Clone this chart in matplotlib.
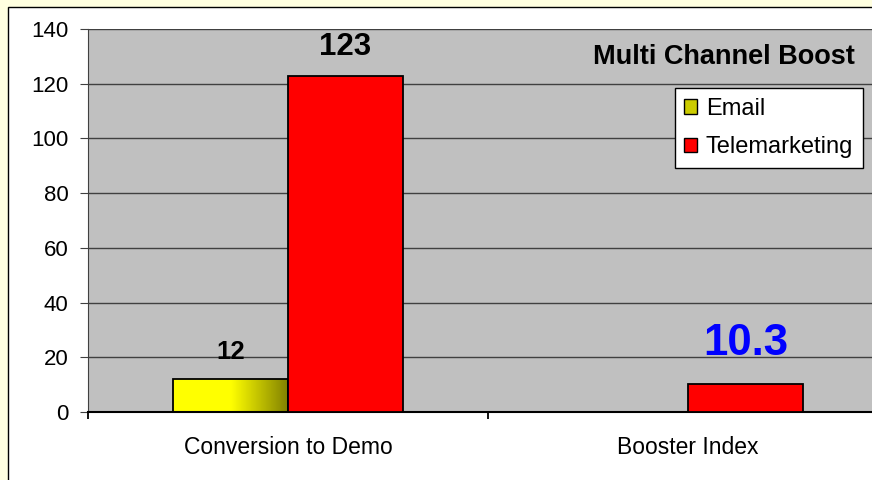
import numpy as np
import matplotlib.pyplot as plt
from matplotlib.colors import LinearSegmentedColormap
from matplotlib.patches import Rectangle, Patch

categories = ['Conversion to Demo', 'Booster Index']
email = [12, 0]
telemarketing = [123, 10.3]
yticks = [0, 20, 40, 60, 80, 100, 120, 140]
title = 'Multi Channel Boost'

plt.rcParams['font.family'] = ['Liberation Sans', 'DejaVu Sans']

fig = plt.figure(figsize=(8.72, 4.8), dpi=100, facecolor='#FFFFE0')
# white chart area with a black frame, it runs off the right and bottom edge
fig.patches.append(Rectangle((8 / 872, -0.1), 1.2, 473 / 480 + 0.1,
                             transform=fig.transFigure, fc='white',
                             ec='black', lw=1, zorder=-1))

ax = fig.add_axes([88 / 872, 68 / 480, 800 / 872, 383 / 480])
ax.set_facecolor('#C0C0C0')
ax.set_axisbelow(True)

x = np.arange(len(categories))
w = 0.2875

# email bars: yellow -> olive gradient clipped to the bar
cmap = LinearSegmentedColormap.from_list('yo', ['#FFFF00', '#FFFF00', '#808000'])
grad = np.linspace(0, 1, 256).reshape(1, -1)
bars_e = ax.bar(x - w / 2, email, w, color='none', edgecolor='black', lw=1.3, zorder=3)
for b in bars_e:
    if b.get_height() > 0:
        im = ax.imshow(grad, cmap=cmap, aspect='auto', zorder=2.5,
                       extent=[b.get_x(), b.get_x() + b.get_width(), 0, b.get_height()])
        im.set_clip_path(b)

bars_t = ax.bar(x + w / 2, telemarketing, w, color='#FF0000', edgecolor='black', lw=1.3, zorder=3)

# data labels
ax.annotate('12', (x[0] - w / 2, email[0]), xytext=(0, 14.4), textcoords='offset points',
            ha='center', va='baseline', fontsize=18.5, fontweight='bold')
ax.annotate('123', (x[0] + w / 2, telemarketing[0]), xytext=(0, 15), textcoords='offset points',
            ha='center', va='baseline', fontsize=22.5, fontweight='bold')
ax.annotate('10.3', (x[1] + w / 2, telemarketing[1]), xytext=(0, 21), textcoords='offset points',
            ha='center', va='baseline', fontsize=31.5, fontweight='bold', color='#0000FF')

ax.set_xlim(-0.5, 1.5)
ax.set_ylim(0, 140)
ax.set_yticks(yticks)
ax.yaxis.grid(True, color='#404040', lw=1)
ax.tick_params(axis='y', labelsize=16, length=6, direction='out', color='#404040', pad=8)

ax.set_xticks([-0.5, 0.5, 1.5])
ax.set_xticklabels([])
ax.set_xticks(x, minor=True)
ax.set_xticklabels(categories, minor=True)
ax.tick_params(axis='x', which='major', length=5, color='black', width=1.3)
ax.tick_params(axis='x', which='minor', length=0, labelsize=16.5, pad=17)

for s in ['top', 'right']:
    ax.spines[s].set_visible(False)
ax.spines['left'].set_color('#404040')
ax.spines['bottom'].set_color('black')
ax.spines['bottom'].set_linewidth(1.5)

fig.text(724 / 872, 1 - 57 / 480, title, ha='center', va='center',
         fontsize=19.5, fontweight='bold')

handles = [Patch(facecolor='#CCCC00', edgecolor='black'),
           Patch(facecolor='#FF0000', edgecolor='black')]
leg = fig.legend(handles, ['Email', 'Telemarketing'], loc='upper right',
                 bbox_to_anchor=(863 / 872, 1 - 88 / 480), bbox_transform=fig.transFigure,
                 fontsize=17, frameon=True, fancybox=False, framealpha=1,
                 edgecolor='black', borderaxespad=0, borderpad=0.42,
                 handlelength=0.55, handleheight=0.55, handletextpad=0.35,
                 labelspacing=0.7)
leg.get_frame().set_linewidth(1)

fig.savefig('out.png', dpi=100, facecolor=fig.get_facecolor())
